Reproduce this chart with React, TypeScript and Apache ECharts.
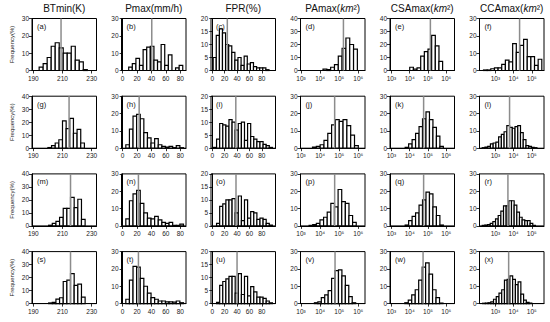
import React, { useEffect, useRef } from 'react';
import * as echarts from 'echarts';

const FONT = '"Liberation Sans", Arial, sans-serif';

const columnTitles = ['BTmin(K)', 'Pmax(mm/h)', 'FPR(%)', 'PAmax({i|km}²)', 'CSAmax({i|km}²)', 'CCAmax({i|km}²)'];
const panelLetters = ['a','b','c','d','e','f','g','h','i','j','k','l','m','n','o','p','q','r','s','t','u','v','w','x'];

// x ranges (area columns are in log10 units)
const xMin = [189.1, -1.5, -2, 2.97, 2.92, 2.13];
const xMax = [233.3, 88, 102, 6.35, 6.45, 5.67];
const xTicks = [[190, 210, 230], [0, 20, 40, 60, 80], [0, 20, 40, 60, 80], [3, 4, 5, 6], [3, 4, 5, 6], [3, 4, 5]];
const logColumn = [false, false, false, true, true, true];
const yMaxRows = [
  [30, 30, 20, 40, 40, 30],
  [40, 30, 20, 30, 30, 30],
  [40, 30, 20, 30, 30, 30],
  [40, 30, 20, 30, 30, 30],
];

// histogram bins: first edge, bin width, frequencies (%)
const binStarts = [
  194, 8.5, 1.5, 4.15, 4.0, 2.35,
  200, 4.5, 2, 3.6, 3.75, 2.28,
  200.5, 4.5, 7, 3.42, 3.75, 2.28,
  200.5, 4.5, 7, 3.7, 3.73, 2.3,
];
const binWidths = [
  2.75, 5, 5, 0.2, 0.2, 0.2,
  2.5, 5, 5, 0.2, 0.19, 0.15,
  2.5, 5, 5, 0.19, 0.19, 0.146,
  2.5, 5, 5, 0.18, 0.19, 0.15,
];
const freq_a = [2, 4, 7.5, 14, 16, 13, 10, 10, 14, 6, 5, 0.5];
const freq_b = [2, 4, 7, 3, 12, 13.5, 14, 6, 5, 15, 3, 9, 0, 1.5, 3];
const freq_c = [5, 13.5, 16, 14.5, 10, 9.5, 7, 4, 5, 2, 5.5, 2.5, 3, 1.5, 1, 1, 1, 0.3];
const freq_d = [1, 0.7, 2.5, 4.5, 11, 17, 25, 20, 16.5];
const freq_e = [2.5, 1, 2, 11, 14.5, 16.5, 27, 19, 7];
const freq_f = [0.3, 0.3, 1, 1.5, 1.5, 3.5, 6, 5, 15.5, 10.5, 14.5, 18, 8, 8, 3, 6.5];
const freq_g = [0.5, 2, 4, 6.5, 21, 15, 23, 11.5, 14.5, 4];
const freq_h = [2, 11, 18.5, 19.5, 17, 9, 6, 3, 5.5, 2, 1, 0.7, 1, 0.3, 1.5, 0.3];
const freq_i = [0.3, 3.5, 9.5, 9, 8.5, 11, 10, 7, 9.5, 10, 3, 9.5, 4.5, 3.5, 2.5, 2.5, 1.5, 1, 0.3];
const freq_j = [0.7, 1, 2, 4.5, 8.5, 13.5, 16.5, 15.5, 16.5, 13, 7.5, 1.5];
const freq_k = [0.5, 2.5, 5, 8.5, 12.5, 17, 21, 16.5, 12, 7, 1];
const freq_l = [0.3, 0.7, 1, 2.5, 3, 3.5, 6.5, 8, 9.5, 13, 12, 11.5, 12.5, 13, 9, 5, 1.5, 1, 0.5, 0.3];
const freq_m = [0.5, 2, 3.5, 6.5, 13.5, 13.5, 22, 14, 20.5, 5];
const freq_n = [4, 14.5, 18.5, 20.5, 13, 7.5, 4.5, 4, 5.5, 3.5, 2, 1.5, 2, 0.3, 0.3, 1];
const freq_o = [1, 7.5, 8.5, 10, 10, 10.5, 5, 11.5, 2, 10, 3, 5.5, 5, 2.5, 3, 2.5, 1, 0.3];
const freq_p = [0.3, 0.7, 1.5, 3.5, 5, 8, 13, 11, 21, 14, 13, 6, 2];
const freq_q = [0.5, 3, 5.5, 7.5, 12, 15, 19.5, 18.5, 11, 6, 0.5];
const freq_r = [0.3, 0.5, 0.8, 1.5, 2.5, 4, 6, 8.5, 11.5, 11.5, 14.5, 14.5, 12, 8, 5, 3.5, 3, 3, 1.5, 0.3];
const freq_s = [0.5, 1, 3.5, 4.5, 17, 18, 23, 14, 15, 5];
const freq_t = [2.5, 13.5, 21.5, 21, 14.5, 10, 6, 3.5, 2.5, 1.5, 1.5, 1, 1, 0.8, 1.5, 0.5];
const freq_u = [0.5, 7, 8.5, 9.5, 10.5, 10.5, 4, 11.5, 3.5, 10.5, 3, 6.5, 4.5, 2.5, 2.5, 2, 1, 0.3];
const freq_v = [0.5, 1, 3.5, 5, 7.5, 14.5, 19, 19.5, 16, 10.5, 4, 0.5];
const freq_w = [0.5, 2, 5, 8, 13.5, 21, 23.5, 17, 8, 3.5, 0.3];
const freq_x = [0.2, 0.3, 0.5, 1, 2.5, 4, 6, 8, 13.5, 14, 16, 14, 11, 12.5, 5.5, 2, 0.7, 0.3];
const panelFreqs = [
  freq_a, freq_b, freq_c, freq_d, freq_e, freq_f,
  freq_g, freq_h, freq_i, freq_j, freq_k, freq_l,
  freq_m, freq_n, freq_o, freq_p, freq_q, freq_r,
  freq_s, freq_t, freq_u, freq_v, freq_w, freq_x,
];
// vertical reference (grey) lines
const medians = [
  209, 40.5, 24.3, 5.22, 5.13, 4.33,
  214.5, 23, 38, 4.76, 4.76, 3.78,
  215.5, 22, 38.3, 4.76, 4.76, 3.69,
  215.5, 22, 40, 4.78, 4.73, 3.73,
];

const colLefts = [32, 121.5, 211, 300.5, 390, 479.5];
const rowTops = [18.5, 96.2, 173.9, 251.6];
const PW = 64.5;
const PH = 52;

const SUP: Record<number, string> = { 2: '²', 3: '³', 4: '⁴', 5: '⁵', 6: '⁶' };

export default function App() {
  const ref = useRef<HTMLDivElement>(null);
  useEffect(() => {
    const chart = echarts.init(ref.current!, null, { renderer: 'svg' });
    const grids: any[] = [];
    const xAxes: any[] = [];
    const yAxes: any[] = [];
    const series: any[] = [];
    const graphics: any[] = [];

    const renderItem = (params: any, api: any) => {
      const x0 = api.value(0);
      const x1 = api.value(1);
      const h = api.value(2);
      const p0 = api.coord([x0, h]);
      const p1 = api.coord([x1, 0]);
      return {
        type: 'rect',
        shape: { x: p0[0], y: p0[1], width: p1[0] - p0[0], height: p1[1] - p0[1] },
        style: { fill: '#ffffff', stroke: '#000000', lineWidth: 1.2 },
      };
    };

    for (let r = 0; r < 4; r++) {
      for (let c = 0; c < 6; c++) {
        const idx = r * 6 + c;
        const ymax = yMaxRows[r][c];
        grids.push({
          left: colLefts[c], top: rowTops[r], width: PW, height: PH,
          show: true, borderColor: '#000', borderWidth: 1, backgroundColor: 'transparent',
        });
        const isLog = logColumn[c];
        xAxes.push({
          type: 'value', gridIndex: idx, min: xMin[c], max: xMax[c],
          axisLine: { show: true, onZero: false, lineStyle: { color: '#000', width: 1 } },
          axisTick: { show: true, customValues: xTicks[c], length: 3, lineStyle: { color: '#000', width: 0.8 } },
          axisLabel: {
            customValues: xTicks[c], fontSize: 6.5, color: '#222', margin: 4, fontFamily: FONT,
            formatter: (v: number) => (isLog ? '10' + SUP[Math.round(v)] : String(v)),
          },
          splitLine: { show: false },
        });
        yAxes.push({
          type: 'value', gridIndex: idx, min: 0, max: ymax, interval: ymax === 20 ? 5 : 10,
          axisLine: { show: true, lineStyle: { color: '#000', width: 1 } },
          axisTick: { show: true, length: 3, lineStyle: { color: '#000', width: 0.8 } },
          axisLabel: { fontSize: 6.5, color: '#222', margin: 3, fontFamily: FONT },
          splitLine: { show: false },
          name: c === 0 ? 'Frequency(%)' : '',
          nameLocation: 'middle', nameGap: 17, nameRotate: 90,
          nameTextStyle: { fontSize: 6, color: '#222', fontFamily: FONT },
        });
        const freqs = panelFreqs[idx];
        const data = freqs.map((f, i) => [
          binStarts[idx] + i * binWidths[idx],
          binStarts[idx] + (i + 1) * binWidths[idx],
          f,
        ]);
        series.push({
          type: 'custom', xAxisIndex: idx, yAxisIndex: idx, renderItem, data,
          encode: { x: [0, 1], y: 2 }, z: 2, silent: true,
        });
        series.push({
          type: 'line', xAxisIndex: idx, yAxisIndex: idx,
          data: [[medians[idx], 0], [medians[idx], ymax]],
          symbol: 'none', lineStyle: { color: '#8c8c8c', width: 1.5 }, z: 3, silent: true,
        });
        graphics.push({
          type: 'text', x: colLefts[c] + 5, y: rowTops[r] + 4, z: 10,
          style: { text: '(' + panelLetters[idx] + ')', fontSize: 7.5, fontFamily: FONT, fill: '#111', align: 'left', verticalAlign: 'top' },
        });
      }
    }
    for (let c = 0; c < 6; c++) {
      graphics.push({
        type: 'text', x: colLefts[c] + PW / 2, y: 8, z: 10,
        style: {
          text: columnTitles[c], fontSize: 10, fontFamily: FONT, fill: '#111',
          align: 'center', verticalAlign: 'middle',
          rich: { i: { fontStyle: 'italic', fontSize: 10, fontFamily: FONT, fill: '#111' } },
        },
      });
    }

    chart.setOption({
      animation: false,
      backgroundColor: '#ffffff',
      grid: grids,
      xAxis: xAxes,
      yAxis: yAxes,
      series,
      graphic: graphics,
    });
    return () => chart.dispose();
  }, []);
  return <div ref={ref} style={{ position: 'fixed', left: 0, top: 0, width: 550, height: 322 }} />;
}
